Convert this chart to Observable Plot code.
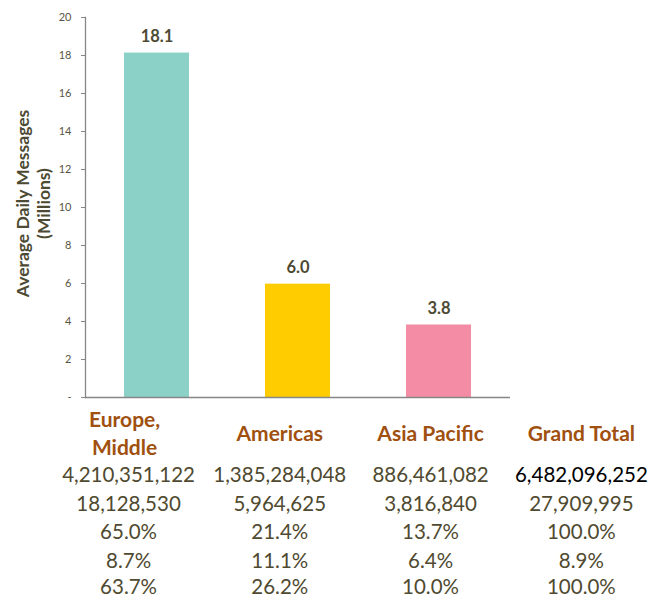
<!DOCTYPE html>
<html>
<head>
<meta charset="utf-8">
<script src="https://cdn.jsdelivr.net/npm/d3@7"></script>
<script src="https://cdn.jsdelivr.net/npm/@observablehq/plot@0.6"></script>
<style>
  body { margin: 0; background: #fff; font-family: Lato, "Open Sans", sans-serif; }
  #wrap { position: relative; width: 657px; }
  table { border-collapse: collapse; table-layout: fixed; margin-left: 53px; }
  td { width: 152px; text-align: center; padding: 0; font-size: 20.5px; line-height: 28.5px; color: #4F4A30; white-space: nowrap; }
  th { width: 152px; text-align: center; padding: 0; font-size: 21px; line-height: 27.5px; color: #A0500F; font-weight: bold; vertical-align: middle; white-space: nowrap; }
  tr.last td { line-height: 24px; vertical-align: top; }
</style>
</head>
<body>
<div id="wrap">
  <div id="chart"></div>
  <table id="tbl"></table>
</div>
<script>
const regions = ["Europe, Middle", "Americas", "Asia Pacific"];
const headers = ["Europe,\nMiddle", "Americas", "Asia Pacific", "Grand Total"];
const totalMessages = [4210351122, 1385284048, 886461082, 6482096252];
const avgDailyMessages = [18128530, 5964625, 3816840, 27909995];
const shareOfMessages = [65.0, 21.4, 13.7, 100.0];
const rowFour = [8.7, 11.1, 6.4, 8.9];
const rowFive = [63.7, 26.2, 10.0, 100.0];
const yTicks = [0, 2, 4, 6, 8, 10, 12, 14, 16, 18, 20];
const palette = ["#8BD1C7", "#FFCC00", "#F38CA4"];

const bars = regions.map((r, i) => ({region: r, value: avgDailyMessages[i] / 1e6}));

const textColor = "#4D4A33";
const chart = Plot.plot({
  width: 657,
  height: 405,
  marginLeft: 85,
  marginRight: 147,
  marginTop: 17,
  marginBottom: 8,
  style: {fontFamily: "Lato, 'Open Sans', sans-serif", color: textColor, background: "#fff"},
  x: {domain: regions, paddingInner: 0.54, paddingOuter: 0.27, axis: null},
  y: {domain: [0, 20], ticks: yTicks, tickFormat: d => d === 0 ? "-" : String(d), label: null},
  color: {domain: regions, range: palette},
  marks: [
    Plot.barY(bars, {x: "region", y: "value", fill: "region"}),
    Plot.text(bars, {x: "region", y: "value", text: d => d.value.toFixed(1), lineAnchor: "bottom", dy: -11, fontSize: 16.5, fontWeight: "bold", fill: textColor}),
    Plot.axisY({ticks: yTicks, tickFormat: d => d === 0 ? "-" : String(d), tickSize: 4, tickPadding: 10, fontSize: 11, stroke: "#868686", fill: "#595540", label: null}),
    Plot.frame({anchor: "left", stroke: "#868686", strokeWidth: 1.3}),
    Plot.ruleY([0], {stroke: "#868686", strokeWidth: 1.5}),
    Plot.text(["Average Daily Messages\n(Millions)"], {frameAnchor: "left", dx: -53, dy: -4, rotate: -90, fontSize: 17.5, fontWeight: "bold", lineHeight: 1.2, fill: textColor, textAnchor: "middle", lineAnchor: "middle"})
  ]
});
document.getElementById("chart").appendChild(chart);

const tbl = d3.select("#tbl");
tbl.append("tr").selectAll("th").data(headers).join("th")
  .style("padding-right", (d, i) => i === 0 ? "8px" : null)
  .style("width", (d, i) => i === 0 ? "144px" : null)
  .html(d => d.replace("\n", "<br>"));
const fmtInt = d3.format(",");
const fmtPct = d => d.toFixed(1) + "%";
const rows = [
  totalMessages.map(fmtInt),
  avgDailyMessages.map(fmtInt),
  shareOfMessages.map(fmtPct),
  rowFour.map(fmtPct),
  rowFive.map(fmtPct)
];
rows.forEach((r, ri) => {
  tbl.append("tr").attr("class", ri === rows.length - 1 ? "last" : null)
    .selectAll("td").data(r).join("td")
    .style("color", (d, i) => (ri === 0 && i === 3) ? "#000" : null)
    .text(d => d);
});
</script>
</body>
</html>
